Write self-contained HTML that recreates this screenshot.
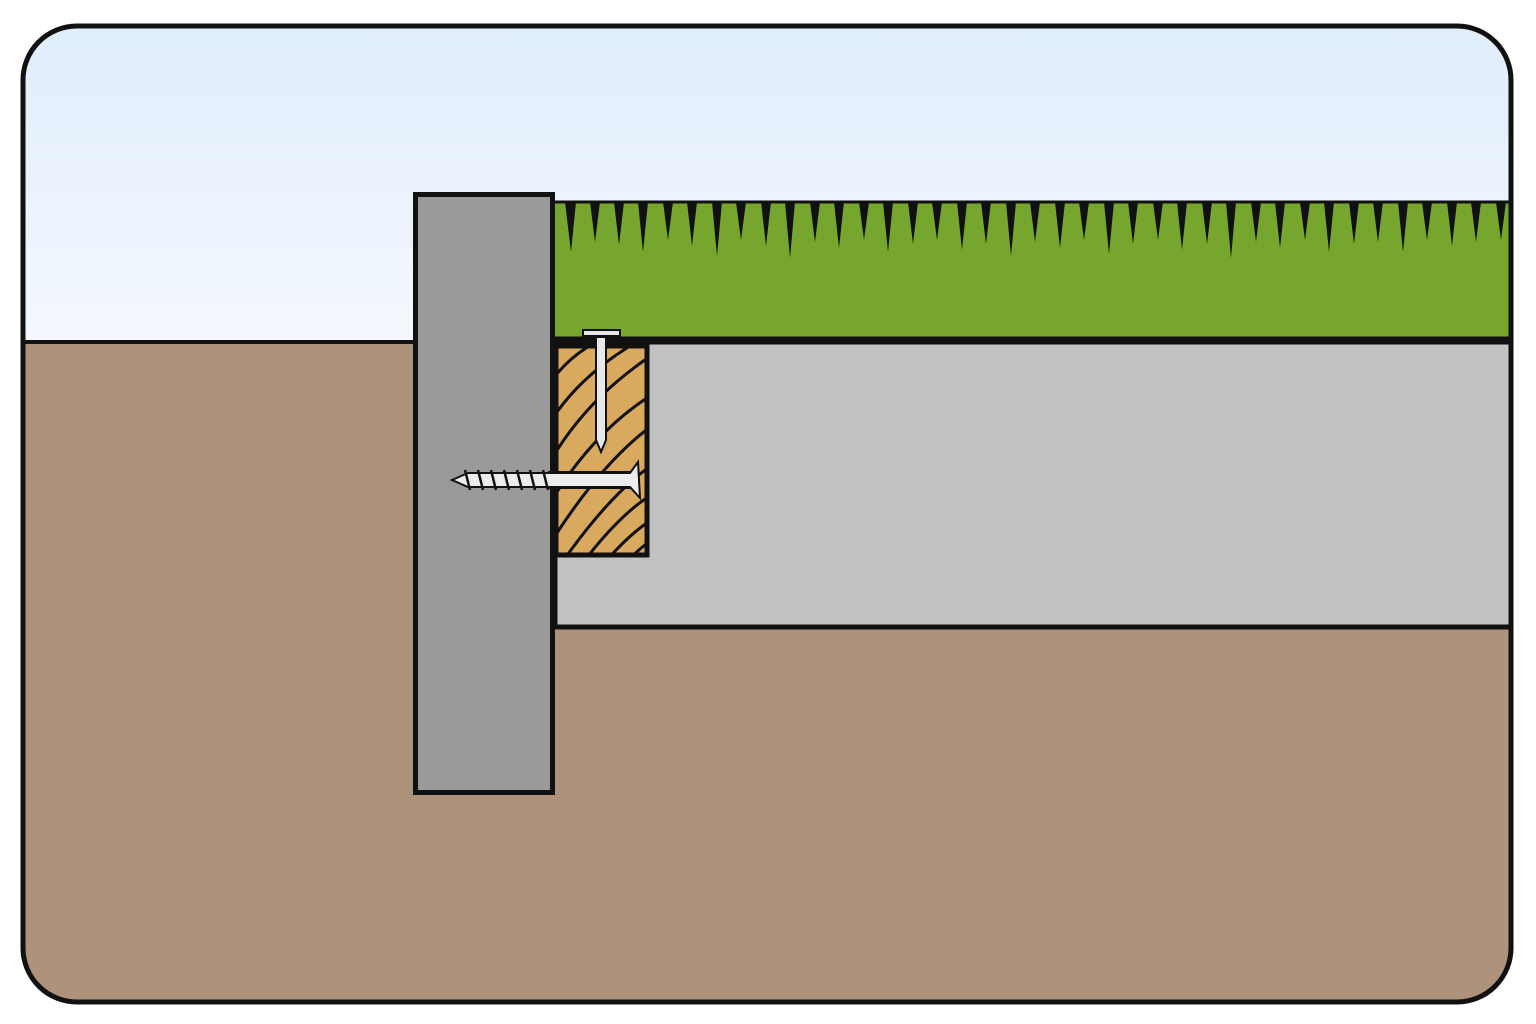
<!DOCTYPE html>
<html><head><meta charset="utf-8"><style>html,body{margin:0;padding:0;background:#fff}svg{display:block}</style></head>
<body>
<svg width="1536" height="1024" viewBox="0 0 1536 1024" xmlns="http://www.w3.org/2000/svg">
<defs>
<linearGradient id="sky" gradientUnits="userSpaceOnUse" x1="0" y1="26" x2="0" y2="342"><stop offset="0" stop-color="#e0edfb"/><stop offset="1" stop-color="#f4f8fe"/></linearGradient>
<clipPath id="fr"><rect x="23" y="26" width="1488" height="976" rx="54"/></clipPath>
<clipPath id="wd"><rect x="558" y="348" width="87" height="205"/></clipPath>
</defs>
<g clip-path="url(#fr)">
<rect x="0" y="0" width="1536" height="1024" fill="url(#sky)"/>
<rect x="0" y="342" width="1536" height="700" fill="#ad937c"/>
<rect x="555" y="202" width="960" height="138" fill="#77a62f"/>
<path d="M565 202 L571 252 L576 202Z M590 202 L595 242 L600 202Z M614 202 L619 245 L624 202Z M638 202 L643 252 L648 202Z M663 202 L668 240 L673 202Z M687 202 L692 246 L697 202Z M712 202 L717 256 L722 202Z M736 202 L741 240 L746 202Z M761 202 L766 246 L771 202Z M785 202 L790 258 L795 202Z M810 202 L815 242 L820 202Z M834 202 L839 248 L844 202Z M859 202 L864 240 L869 202Z M883 202 L888 252 L893 202Z M908 202 L913 244 L918 202Z M932 202 L937 240 L942 202Z M957 202 L962 250 L967 202Z M981 202 L986 244 L991 202Z M1006 202 L1011 256 L1016 202Z M1030 202 L1035 242 L1040 202Z M1055 202 L1060 248 L1065 202Z M1079 202 L1084 240 L1089 202Z M1104 202 L1109 254 L1114 202Z M1128 202 L1133 244 L1138 202Z M1153 202 L1158 240 L1163 202Z M1177 202 L1182 250 L1187 202Z M1202 202 L1207 244 L1212 202Z M1226 202 L1231 258 L1236 202Z M1251 202 L1256 242 L1261 202Z M1275 202 L1280 248 L1285 202Z M1300 202 L1305 240 L1310 202Z M1324 202 L1329 252 L1334 202Z M1349 202 L1354 244 L1359 202Z M1373 202 L1378 242 L1383 202Z M1398 202 L1403 252 L1408 202Z M1422 202 L1427 240 L1432 202Z M1447 202 L1452 246 L1457 202Z M1471 202 L1476 242 L1481 202Z M1496 202 L1501 240 L1506 202Z" fill="#111"/>
<line x1="555" y1="202" x2="1515" y2="202" stroke="#111" stroke-width="3"/>
<rect x="555" y="342" width="960" height="285" fill="#c2c2c2" stroke="#111" stroke-width="5"/>
<line x1="555" y1="340" x2="1515" y2="340" stroke="#111" stroke-width="7"/>
<line x1="0" y1="342" x2="415" y2="342" stroke="#111" stroke-width="4"/>
<rect x="415.5" y="194.5" width="137" height="598" fill="#999" stroke="#111" stroke-width="5"/>
<rect x="556" y="346" width="91" height="209" fill="#d8a95e" stroke="#111" stroke-width="5"/>
<g clip-path="url(#wd)" stroke="#111" stroke-width="3" fill="none">
<path d="M540 400 Q560 360 600 340"/><path d="M540 440 Q570 380 640 340"/><path d="M540 480 Q580 400 660 350"/><path d="M540 520 Q590 430 660 390"/><path d="M540 560 Q600 460 660 420"/><path d="M550 580 Q610 490 660 460"/><path d="M570 580 Q620 510 660 490"/><path d="M590 580 Q630 530 660 515"/><path d="M610 580 Q640 545 660 535"/><path d="M630 580 Q645 560 660 555"/>
</g>
<rect x="583" y="330" width="37" height="6" fill="#e8e8e8" stroke="#111" stroke-width="2"/>
<path d="M596 337 L606 337 L606 440 L601 452 L596 440Z" fill="#e8e8e8" stroke="#111" stroke-width="2"/>
<rect x="548" y="471" width="82" height="18" fill="#111"/>
<path d="M452 480 L468 473 L630 473 L638 462 L640 498 L630 487 L468 487Z" fill="#ececec" stroke="#111" stroke-width="2"/>
<g stroke="#111" stroke-width="2.5"><line x1="465" y1="470" x2="470" y2="490"/><line x1="478" y1="470" x2="483" y2="490"/><line x1="491" y1="470" x2="496" y2="490"/><line x1="504" y1="470" x2="509" y2="490"/><line x1="517" y1="470" x2="522" y2="490"/><line x1="530" y1="470" x2="535" y2="490"/><line x1="543" y1="470" x2="548" y2="490"/></g>
</g>
<rect x="23" y="26" width="1488" height="976" rx="54" fill="none" stroke="#111" stroke-width="5"/>
</svg>
</body></html>
